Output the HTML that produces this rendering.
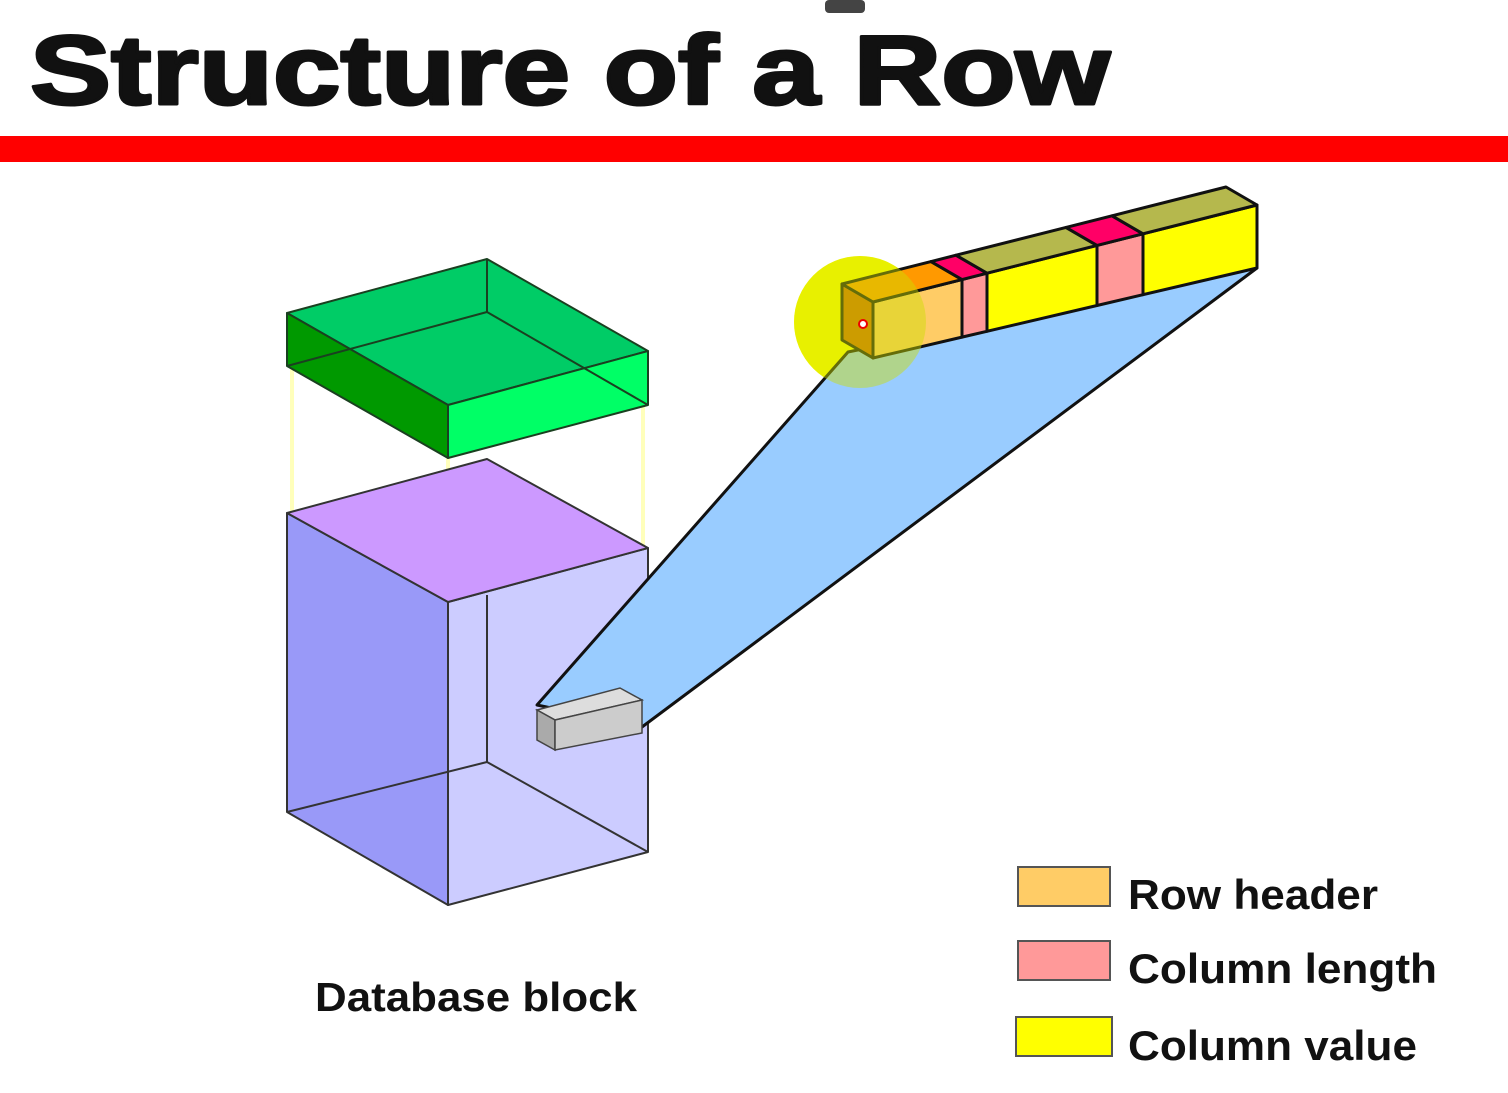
<!DOCTYPE html>
<html><head><meta charset="utf-8"><style>
html,body{margin:0;padding:0;background:#fff;}
svg{display:block;}
text{font-family:"Liberation Sans",Arial,sans-serif;font-weight:bold;fill:#111;}
</style></head><body>
<svg width="1508" height="1093" viewBox="0 0 1508 1093">
<rect x="825" y="0" width="40" height="13" rx="4" fill="#444"/>
<text x="30" y="104" font-size="98" textLength="1080" lengthAdjust="spacingAndGlyphs" stroke="#111" stroke-width="3" stroke-linejoin="round">Structure of a Row</text>
<rect x="0" y="136" width="1508" height="26" fill="#ff0000"/>

<g stroke="#ffffbb" stroke-width="4">
<line x1="292" y1="366" x2="292" y2="513"/><line x1="448" y1="458" x2="448" y2="602"/><line x1="643" y1="405" x2="643" y2="548"/>
</g>

<g stroke="#333" stroke-width="2" stroke-linejoin="round">
<polygon points="287,513 448,602 448,905 287,812" fill="#9999f8"/>
<polygon points="448,602 648,548 648,852 448,905" fill="#ccccff"/>
<polygon points="287,513 487,459 648,548 448,602" fill="#cc99ff"/>
<line x1="487" y1="595" x2="487" y2="762"/><line x1="487" y1="762" x2="287" y2="812"/><line x1="487" y1="762" x2="648" y2="852"/>
</g>

<g stroke="#1a4020" stroke-width="2" stroke-linejoin="round">
<polygon points="287,313 487,259 648,351 448,405" fill="#00cc66"/>
<polygon points="287,313 448,405 448,458 287,366" fill="#009900"/>
<polygon points="448,405 648,351 648,405 448,458" fill="#00ff66"/>
<line x1="487" y1="259" x2="487" y2="312"/><line x1="487" y1="312" x2="287" y2="366"/><line x1="487" y1="312" x2="648" y2="405"/>
</g>

<circle cx="860" cy="322" r="66" fill="#ffff00"/>
<polygon points="537,705 848,352 1257,268 642,727" fill="#99ccff" stroke="#111" stroke-width="3" stroke-linejoin="round"/>

<g stroke="#444" stroke-width="1.5">
<polygon points="537,710 620,688 642,700 555,720" fill="#dddddd"/>
<polygon points="537,710 555,720 555,750 537,740" fill="#aaaaaa"/>
<polygon points="555,720 642,700 642,733 555,750" fill="#cccccc"/>
</g>

<g id="bar"></g>
<circle cx="860" cy="322" r="66" fill="#ccdd00" opacity="0.45" pointer-events="none"/>
<circle cx="863" cy="324" r="4" fill="#fff" stroke="#e00" stroke-width="2"/>

<text x="315" y="1011" font-size="41" textLength="322" lengthAdjust="spacingAndGlyphs">Database block</text>

<g>
<rect x="1018" y="867" width="92" height="39" fill="#ffcc66" stroke="#555" stroke-width="2"/>
<text x="1128" y="909" font-size="42" textLength="250" lengthAdjust="spacingAndGlyphs">Row header</text>
<rect x="1018" y="941" width="92" height="39" fill="#ff9999" stroke="#555" stroke-width="2"/>
<text x="1128" y="983" font-size="42" textLength="309" lengthAdjust="spacingAndGlyphs">Column length</text>
<rect x="1016" y="1017" width="96" height="39" fill="#ffff00" stroke="#555" stroke-width="2"/>
<text x="1128" y="1060" font-size="42" textLength="289" lengthAdjust="spacingAndGlyphs">Column value</text>
</g>
</svg>
<script>
const segNames=['row-header','column-length-1','column-value-1','column-length-2','column-value-2'];
const segEnds=[873,962,987,1097,1143,1257];
const segFront=['#ffcc66','#ff9999','#ffff00','#ff9999','#ffff00'];
const segTop=['#ff9900','#ff0066','#b5b84d','#ff0066','#b5b84d'];
const ns='http://www.w3.org/2000/svg';
const g=document.getElementById('bar');
function yt(x){return 302-(x-873)*97/384;}
function yb(x){return 358-(x-873)*90/384;}
const dx=-31,dy=-18;
function poly(pts,fill){const p=document.createElementNS(ns,'polygon');p.setAttribute('points',pts.map(a=>a.join(',')).join(' '));p.setAttribute('fill',fill);p.setAttribute('stroke','#111');p.setAttribute('stroke-width','3');p.setAttribute('stroke-linejoin','round');g.appendChild(p);return p;}
const side=poly([[873,yt(873)],[873+dx,yt(873)+dy],[873+dx,yb(873)+dy],[873,yb(873)]],'#cc6600');


for(let i=0;i<segNames.length;i++){
 const a=segEnds[i],b=segEnds[i+1];
 const f=poly([[a,yt(a)],[b,yt(b)],[b,yb(b)],[a,yb(a)]],segFront[i]);
 
 
 const t=poly([[a,yt(a)],[a+dx,yt(a)+dy],[b+dx,yt(b)+dy],[b,yt(b)]],segTop[i]);
 
 
}
</script>
</body></html>
